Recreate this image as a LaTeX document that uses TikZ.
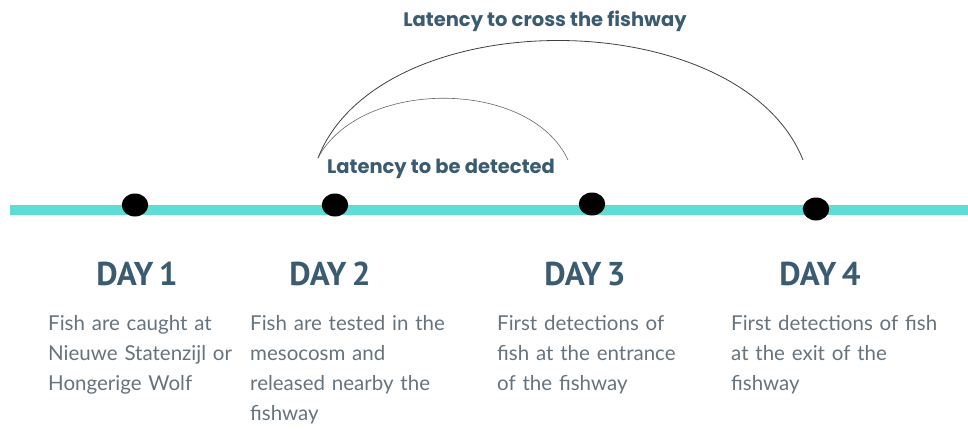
\documentclass[tikz,border=0pt]{standalone}
\usepackage{fontspec}
\setmainfont{Lato}
\newfontfamily\headfont{PT Sans}
\newfontfamily\latfont{Poppins}
\definecolor{teal1}{HTML}{5DDDD3}
\definecolor{slate}{HTML}{3B5B70}
\definecolor{txtgray}{HTML}{66737D}
\tikzstyle{blob}=[shape=circle, minimum size=23pt, inner sep=0, fill=black, xscale=1.15]
\tikzstyle{day}=[anchor=base, inner sep=0, text=slate, font=\headfont\bfseries\fontsize{33}{36}\selectfont]
\tikzstyle{desc}=[anchor=north west, inner sep=0, text width=210pt, align=left, text=txtgray, font=\fontsize{20.5}{30}\selectfont]
\tikzstyle{lat}=[anchor=base, inner sep=0, text=slate, font=\latfont\bfseries\fontsize{19.5}{22}\selectfont]

\begin{document}
\begin{tikzpicture}[x=1pt, y=-1pt]
\useasboundingbox (0,0) rectangle (968,428);
\draw[teal1, line width=10pt] (10,210)--(968,210);
\node[blob] (d1) at (135,205){};
\node[blob] (d2) at (335,205){};
\node[blob] (d3) at (592,204){};
\node[blob] (d4) at (816,209){};
\foreach \n/\x in {1/137,2/330,3/585,4/820}
	\node[day] (h\n) at (\x,285) {DAY\,\n};
\node[desc] (t1) at (48,315) {Fish are caught at\\Nieuwe Statenzijl or\\Hongerige Wolf};
\node[desc] (t2) at (250,315) {Fish are tested in the\\mesocosm and\\released nearby the\\fishway};
\node[desc] (t3) at (497,315) {First detections of\\fish at the entrance\\of the fishway};
\node[desc] (t4) at (731,315) {First detections of fish\\at the exit of the\\fishway};
\coordinate (a0) at (318,158);
\coordinate (a1) at (568,160);
\coordinate (a2) at (803,160);
\draw[black!75, line width=0.8pt] (a0) .. controls (380,0) and (740,2) .. (a2);
\draw[black!60, line width=0.6pt] (a0) .. controls (360,78) and (530,78) .. (a1);
\node[lat] (l1) at (545,27) {Latency to cross the fishway};
\node[lat] (l2) at (441,173) {Latency to be detected};
\end{tikzpicture}
\end{document}
